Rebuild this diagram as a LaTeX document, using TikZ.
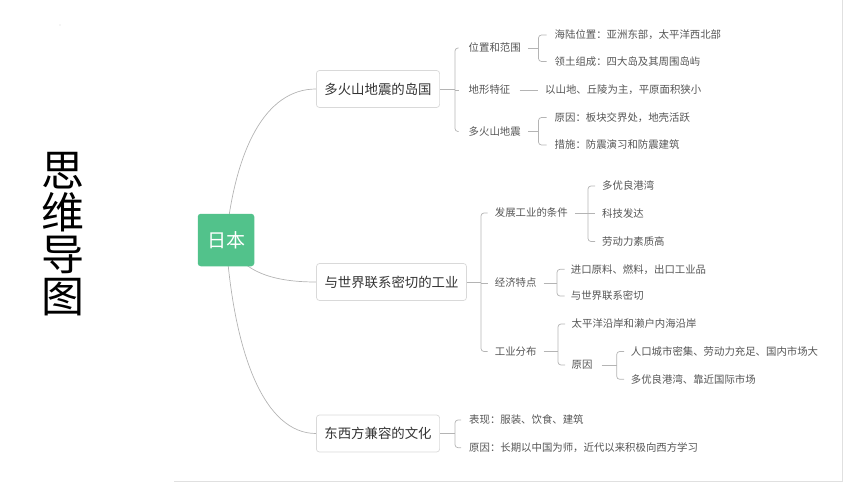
\documentclass[tikz,border=0pt]{standalone}
\usepackage{fontspec}
\setmainfont{Noto Sans CJK SC}
\usetikzlibrary{backgrounds}
\definecolor{rootgreen}{HTML}{52C28B}
\definecolor{linkgray}{HTML}{B4B4B4}
\definecolor{boxgray}{HTML}{D9D9D9}
\definecolor{txtgray}{HTML}{555555}
\definecolor{topicgray}{HTML}{333333}

\begin{document}
\begin{tikzpicture}[x=1pt,y=-1pt,
  link/.style={draw=linkgray,line width=0.7pt,rounded corners=3pt},
  curve/.style={draw=linkgray,line width=0.7pt},
  topic/.style={draw=boxgray,fill=white,line width=0.7pt,rounded corners=3pt,inner xsep=8pt,minimum height=37pt,text=topicgray,font=\fontsize{13.4}{15}\selectfont},
  sub/.style={anchor=west,inner sep=0pt,text=txtgray,font=\fontsize{10.4}{12}\selectfont}]
      \useasboundingbox (0,0) rectangle (860,484);
      \draw[color=black!12,line width=1pt] (174,481) -- (842,481) -- (842,0);
      \fill[black!50] (60,25) circle (0.4);

      \node[inner sep=0pt,align=center,font=\fontsize{43}{42}\selectfont] (title) at (63,234.5) {思\\维\\导\\图};

      \node[fill=rootgreen,rounded corners=3pt,minimum width=56.5pt,minimum height=52.5pt,text=white,font=\fontsize{19}{21}\selectfont] (root) at (226,240) {日本};

      \node[topic] (A) at (378,89)    {多火山地震的岛国};
      \node[topic] (B) at (391.5,282) {与世界联系密切的工业};
      \node[topic] (C) at (378,433.5) {东西方兼容的文化};

      \node[sub] (a1)  at (468.5,48)   {位置和范围};
      \node[sub] (a2)  at (468.5,90)   {地形特征};
      \node[sub] (a3)  at (468.5,131.5) {多火山地震};
      \node[sub] (a11) at (554.5,35)   {海陆位置：亚洲东部，太平洋西北部};
      \node[sub] (a12) at (554.5,61.5) {领土组成：四大岛及其周围岛屿};
      \node[sub] (a21) at (545,90)     {以山地、丘陵为主，平原面积狭小};
      \node[sub] (a31) at (554.5,117.5) {原因：板块交界处，地壳活跃};
      \node[sub] (a32) at (554.5,145)  {措施：防震演习和防震建筑};

      \node[sub] (b1)   at (494.7,213)   {发展工业的条件};
      \node[sub] (b2)   at (494.7,283)   {经济特点};
      \node[sub] (b3)   at (494.7,351.5) {工业分布};
      \node[sub] (b11)  at (602,186)     {多优良港湾};
      \node[sub] (b12)  at (602,213.3)   {科技发达};
      \node[sub] (b13)  at (602,241.5)   {劳动力素质高};
      \node[sub] (b21)  at (570.7,269.3) {进口原料、燃料，出口工业品};
      \node[sub] (b22)  at (570.7,296)   {与世界联系密切};
      \node[sub] (b31)  at (571.5,324)   {太平洋沿岸和濑户内海沿岸};
      \node[sub] (b32)  at (571.5,365)   {原因};
      \node[sub] (b321) at (630.7,351.5) {人口城市密集、劳动力充足、国内市场大};
      \node[sub] (b322) at (630.7,379.3) {多优良港湾、靠近国际市场};

      \node[sub] (c1) at (469,420)   {表现：服装、饮食、建筑};
      \node[sub] (c2) at (469,447.7) {原因：长期以中国为师，近代以来积极向西方学习};

      \coordinate (sA)   at (455,0);
      \coordinate (sa1)  at (538.5,0);
      \coordinate (sa3)  at (538.5,0);
      \coordinate (sB)   at (481,0);
      \coordinate (sb1)  at (588,0);
      \coordinate (sb2)  at (557,0);
      \coordinate (sb3)  at (558,0);
      \coordinate (sb32) at (616.7,0);
      \coordinate (sC)   at (455,0);

      \begin{scope}[on background layer]
      \draw[curve] (root.center) .. controls (235,150) and (265,89) .. (A.west);
      \draw[curve] (root.center) .. controls (240,268) and (265,282) .. (B.west);
      \draw[curve] (root.center) .. controls (234,356) and (265,433.5) .. (C.west);
      \end{scope}

      \draw[link] (A.east) -- (sA |- A.east);
      \draw[link] ([xshift=-10]a1.west) -- (sA |- a1.west) -- (sA |- a3.west) -- ([xshift=-10]a3.west);
      \draw[link] (sA |- a2.west) -- ([xshift=-10]a2.west);
      \draw[link] ([xshift=7]a1.east) -- (sa1 |- a1.east);
      \draw[link] ([xshift=-8]a11.west) -- (sa1 |- a11.west) -- (sa1 |- a12.west) -- ([xshift=-8]a12.west);
      \draw[link] ([xshift=9]a2.east) -- ([xshift=-7]a21.west);
      \draw[link] ([xshift=7]a3.east) -- (sa3 |- a3.east);
      \draw[link] ([xshift=-8]a31.west) -- (sa3 |- a31.west) -- (sa3 |- a32.west) -- ([xshift=-8]a32.west);

      \draw[link] (B.east) -- (sB |- B.east);
      \draw[link] ([xshift=-7]b1.west) -- (sB |- b1.west) -- (sB |- b3.west) -- ([xshift=-7]b3.west);
      \draw[link] (sB |- b2.west) -- ([xshift=-7]b2.west);
      \draw[link] ([xshift=7]b1.east) -- (sb1 |- b1.east);
      \draw[link] ([xshift=-7]b11.west) -- (sb1 |- b11.west) -- (sb1 |- b13.west) -- ([xshift=-7]b13.west);
      \draw[link] (sb1 |- b12.west) -- ([xshift=-7]b12.west);
      \draw[link] ([xshift=7]b2.east) -- (sb2 |- b2.east);
      \draw[link] ([xshift=-6]b21.west) -- (sb2 |- b21.west) -- (sb2 |- b22.west) -- ([xshift=-6]b22.west);
      \draw[link] ([xshift=7]b3.east) -- (sb3 |- b3.east);
      \draw[link] ([xshift=-6.5]b31.west) -- (sb3 |- b31.west) -- (sb3 |- b32.west) -- ([xshift=-6.5]b32.west);
      \draw[link] ([xshift=9]b32.east) -- (sb32 |- b32.east);
      \draw[link] ([xshift=-6.5]b321.west) -- (sb32 |- b321.west) -- (sb32 |- b322.west) -- ([xshift=-6.5]b322.west);

      \draw[link] (C.east) -- (sC |- C.east);
      \draw[link] ([xshift=-8]c1.west) -- (sC |- c1.west) -- (sC |- c2.west) -- ([xshift=-8]c2.west);
\end{tikzpicture}
\end{document}
